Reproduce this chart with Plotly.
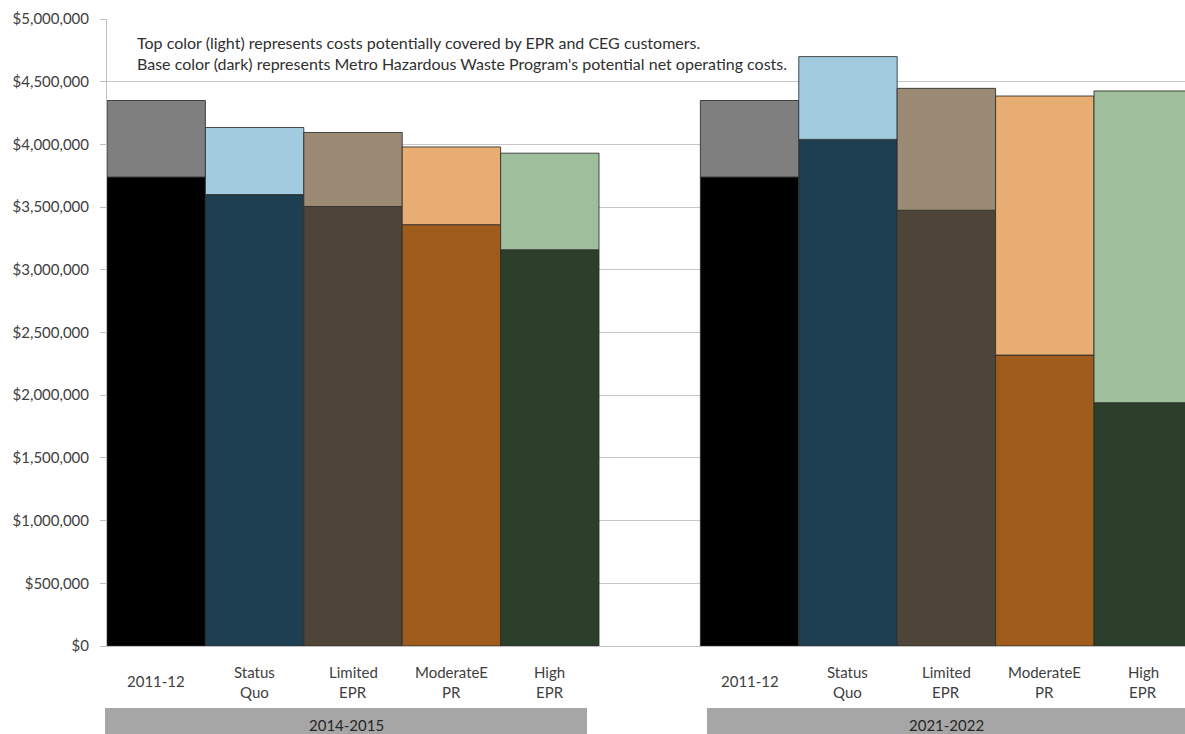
import plotly.graph_objects as go

# Scenario categories and the two forecast periods
scenarios = ["2011-12", "Status<br>Quo", "Limited<br>EPR", "ModerateE<br>PR", "High<br>EPR"]
periods = ["2014-2015", "2021-2022"]

# Metro Hazardous Waste Program net operating costs (dark base)
net_2014 = [3740000, 3600000, 3505000, 3360000, 3160000]
net_2021 = [3740000, 4040000, 3475000, 2320000, 1940000]

# Costs potentially covered by EPR and CEG customers (light top)
covered_2014 = [610000, 535000, 590000, 620000, 770000]
covered_2021 = [610000, 660000, 972000, 2066000, 2486000]

dark_colors = ["#000000", "#1d3f51", "#4f4438", "#a05c1b", "#2c3f2b"]
light_colors = ["#7f7f7f", "#a3cbe0", "#9c8b74", "#e8ad72", "#9fbe9c"]

y_ticks = [0, 500000, 1000000, 1500000, 2000000, 2500000, 3000000, 3500000, 4000000, 4500000, 5000000]
y_tick_text = ["$" + format(v, ",") for v in y_ticks]

note_lines = [
    "Top color (light) represents costs potentially covered by EPR and CEG customers.",
    "Base color (dark) represents Metro Hazardous Waste Program's potential net operating costs.",
]

FONT = "Lato"
TEXT = "#404040"

# Plot-area geometry in pixels (used to place labels outside the axes)
PLOT_L, PLOT_R, PLOT_T, PLOT_B = 107, 1185, 19, 646
X_MAX = 10.455


def px_y(py):
    return (PLOT_B - py) / (PLOT_B - PLOT_T)


def px_x(px):
    return (px - PLOT_L) / (PLOT_R - PLOT_L)


# x positions: five bars per period, a one-bar gap between the periods
GAP = 1.03
x1 = list(range(5))
x2 = [i + 5 + GAP for i in range(5)]

fig = go.Figure()
edge = dict(color="rgba(45,45,45,0.85)", width=1)
for xs, net, cov in [(x1, net_2014, covered_2014), (x2, net_2021, covered_2021)]:
    fig.add_trace(go.Bar(x=xs, y=net, width=1.0, marker=dict(color=dark_colors, line=edge),
                         showlegend=False, hoverinfo="y"))
    fig.add_trace(go.Bar(x=xs, y=cov, base=net, width=1.0, marker=dict(color=light_colors, line=edge),
                         showlegend=False, hoverinfo="y"))

fig.update_layout(
    width=1185, height=734,
    margin=dict(l=PLOT_L, r=1185 - PLOT_R, t=PLOT_T, b=734 - PLOT_B),
    paper_bgcolor="white", plot_bgcolor="white",
    barmode="overlay",
    font=dict(family=FONT, size=15, color=TEXT),
)
fig.update_xaxes(
    range=[-0.5, X_MAX], showticklabels=False, showgrid=False, zeroline=False,
    showline=True, linecolor="#bfbfbf", linewidth=1, ticks="",
)
fig.update_yaxes(
    range=[0, 5000000], tickvals=y_ticks, ticktext=y_tick_text,
    showgrid=True, gridcolor="#c6c6c6", gridwidth=1, zeroline=False,
    showline=True, linecolor="#bfbfbf", linewidth=1,
    ticks="outside", ticklen=6, tickcolor="#bfbfbf", ticklabelstandoff=8,
    tickfont=dict(family=FONT, size=15, color=TEXT),
)

# Category labels under each bar, one line at a time for open line spacing
for xs in (x1, x2):
    for xv, label in zip(xs, scenarios):
        parts = label.split("<br>")
        if len(parts) == 1:
            rows = [(parts[0], 681)]
        else:
            rows = [(parts[0], 672), (parts[1], 692)]
        for txt, py in rows:
            fig.add_annotation(x=xv, y=px_y(py), xref="x", yref="paper", text=txt,
                               showarrow=False, xanchor="center", yanchor="middle",
                               font=dict(family=FONT, size=15, color=TEXT))

# Period bands beneath the category labels (pixel extents of each band)
bands = [(105, 587), (707, 1185)]
for (b0, b1), name in zip(bands, periods):
    fig.add_shape(type="rect", xref="paper", yref="paper", x0=px_x(b0), x1=px_x(b1),
                  y0=px_y(708), y1=px_y(740),
                  fillcolor="#a6a6a6", line=dict(width=0), layer="above")
    fig.add_annotation(x=px_x((b0 + b1) / 2), y=px_y(725), xref="paper", yref="paper",
                       text=name, showarrow=False, xanchor="center", yanchor="middle",
                       font=dict(family=FONT, size=15, color="#262626"))

# Explanatory note at the top of the plot area
for txt, py in zip(note_lines, [43, 63]):
    fig.add_annotation(x=px_x(135), y=px_y(py), xref="paper", yref="paper", text=txt,
                       showarrow=False, xanchor="left", yanchor="middle",
                       font=dict(family=FONT, size=16, color="#303030"))

fig.write_html("out.html")
